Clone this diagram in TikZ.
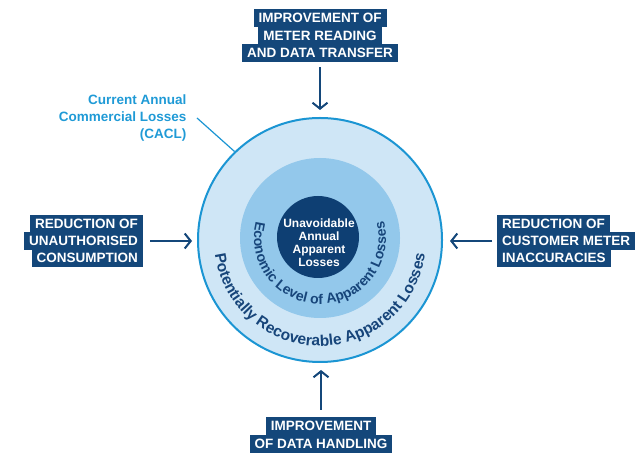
\documentclass[tikz,border=0pt]{standalone}
\usepackage{fontspec}
\setmainfont{Liberation Sans}
\usetikzlibrary{arrows.meta,decorations.text}
\definecolor{navy}{HTML}{14477A}
\definecolor{textnavy}{HTML}{17457A}
\definecolor{outerfill}{HTML}{CFE6F6}
\definecolor{midfill}{HTML}{93C8EB}
\definecolor{innerfill}{HTML}{0E3F73}
\definecolor{ringblue}{HTML}{1B95D3}
\definecolor{cacltext}{HTML}{1F9AD6}
\begin{document}
\begin{tikzpicture}[x=1pt,y=1pt,
  lbl/.style={fill=navy, text=white, font=\bfseries\fontsize{13.5}{16}\selectfont,
    minimum height=18pt, text height=9.7pt, text depth=0pt, inner xsep=5pt, inner ysep=0pt},
  arr/.style={draw=navy, line width=2pt, -{Straight Barb[length=6pt,width=15pt]}},
  ring/.style={circle, inner sep=0pt},
]
\useasboundingbox (0,0) rectangle (639,452);
% circles
\node[ring, fill=outerfill, draw=ringblue, line width=2pt, minimum size=244pt] (outer) at (320,212) {};
\node[ring, fill=midfill, minimum size=160pt] (middle) at (320,214) {};
\node[ring, fill=innerfill, minimum size=82pt] (inner) at (318,215) {};
\node[text=white, align=center, font=\bfseries\fontsize{12}{13}\selectfont] (innertext) at (319,209) {Unavoidable\\Annual\\Apparent\\Losses};
% curved texts
\path[decorate, decoration={text along path, text align=center, text color=textnavy,
  text={|\bfseries\fontsize{14}{14}\selectfont|Economic Level of Apparent Losses}}]
  (320,214) ++(150:66) arc (150:390:66);
\path[decorate, decoration={text along path, text align=center, text color=textnavy,
  text={|\bfseries\fontsize{15.5}{15.5}\selectfont|Potentially Recoverable Apparent Losses}}]
  (320,212) ++(150:106) arc (150:390:106);
% CACL label
\node[text=cacltext, align=right, anchor=east, font=\bfseries\fontsize{13.5}{17}\selectfont] (cacl) at (190,334) {Current Annual\\Commercial Losses\\(CACL)};
\draw[draw=ringblue, line width=1.2pt] ([xshift=7pt]cacl.east) -- (outer.134);
% top label
\node[lbl] (t1) at (320,434) {IMPROVEMENT OF};
\node[lbl] (t2) at (320,416.5) {METER READING};
\node[lbl] (t3) at (320,399) {AND DATA TRANSFER};
% left label
\node[lbl, anchor=east] (l1) at (143,228) {REDUCTION OF};
\node[lbl, anchor=east] (l2) at (143,211) {UNAUTHORISED};
\node[lbl, anchor=east] (l3) at (143,194) {CONSUMPTION};
% right label
\node[lbl, anchor=west] (r1) at (497,228) {REDUCTION OF};
\node[lbl, anchor=west] (r2) at (497,211) {CUSTOMER METER};
\node[lbl, anchor=west] (r3) at (497,194) {INACCURACIES};
% bottom label
\node[lbl] (b1) at (321,26) {IMPROVEMENT};
\node[lbl] (b2) at (321,8.5) {OF DATA HANDLING};
% arrows
\draw[arr, shorten <=5pt, shorten >=7pt] (t3.south) -- (t3.south |- outer.north);
\draw[arr, shorten <=7pt, shorten >=7pt] (b1.north) -- (b1.north |- outer.south);
\draw[arr, shorten <=7pt, shorten >=5pt] (l2.east) -- (l2.east -| outer.west);
\draw[arr, shorten <=5pt, shorten >=7pt] (r2.west) -- (r2.west -| outer.east);
\end{tikzpicture}
\end{document}
